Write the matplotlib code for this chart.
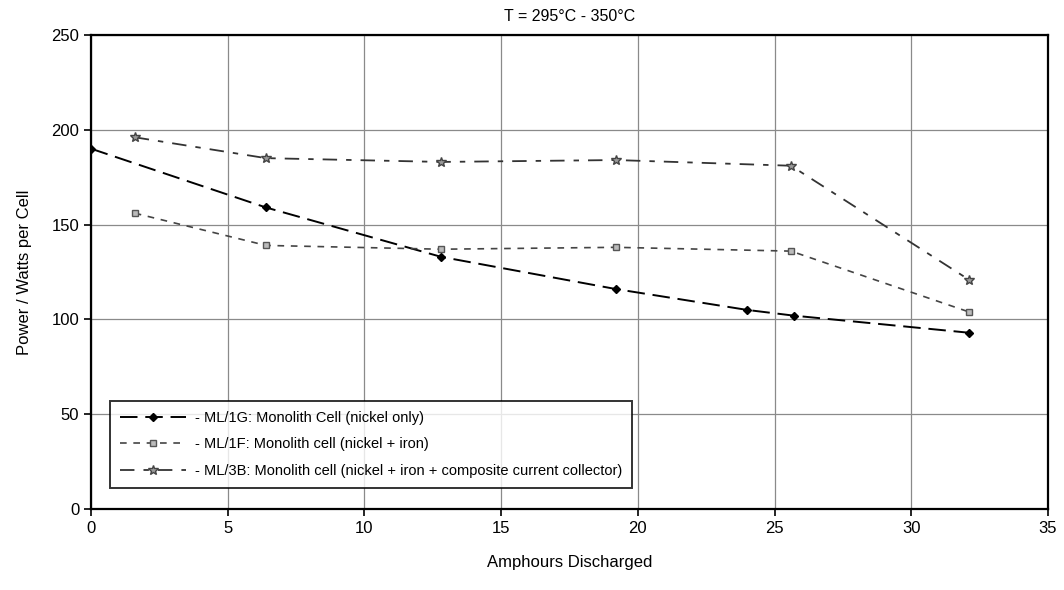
import matplotlib
matplotlib.use("Agg")
import matplotlib.pyplot as plt

plt.rcParams["font.family"] = ["Liberation Sans", "DejaVu Sans"]

# ---- data -----------------------------------------------------------------
x_1g = [0, 6.4, 12.8, 19.2, 24.0, 25.7, 32.1]
y_1g = [190, 159, 133, 116, 105, 102, 93]

x_1f = [1.6, 6.4, 12.8, 19.2, 25.6, 32.1]
y_1f = [156, 139, 137, 138, 136, 104]

x_3b = [1.6, 6.4, 12.8, 19.2, 25.6, 32.1]
y_3b = [196, 185, 183, 184, 181, 121]

labels = ["- ML/1G: Monolith Cell (nickel only)",
          "- ML/1F: Monolith cell (nickel + iron)",
          "- ML/3B: Monolith cell (nickel + iron + composite current collector)"]

# ---- figure ----------------------------------------------------------------
fig = plt.figure(figsize=(10.64, 5.90), dpi=100)
ax = fig.add_axes([0.0855, 0.137, 0.8995, 0.804])

ax.plot(x_1g, y_1g, color="black", lw=1.4, dashes=(9, 4),
        marker="D", ms=4, label=labels[0])
ax.plot(x_1f, y_1f, color="#444444", lw=1.2, dashes=(4, 4),
        marker="s", ms=4, mfc="#bbbbbb", mec="#555555", label=labels[1])
ax.plot(x_3b, y_3b, color="#333333", lw=1.3, dashes=(8, 5, 3, 5),
        marker="*", ms=7, mfc="#999999", mec="#444444", label=labels[2])

ax.set_xlim(0, 35)
ax.set_ylim(0, 250)
ax.set_xticks(range(0, 36, 5))
ax.set_yticks(range(0, 251, 50))
ax.grid(True, color="#8a8a8a", lw=0.9)
ax.set_axisbelow(True)
for s in ax.spines.values():
    s.set_linewidth(1.6)
ax.tick_params(labelsize=12, length=5, width=1.2)

ax.set_xlabel("Amphours Discharged", fontsize=12, labelpad=14)
ax.set_ylabel("Power / Watts per Cell", fontsize=12, labelpad=14)
ax.set_title("T = 295°C - 350°C", fontsize=11.5, pad=10)

leg = ax.legend(loc="lower left", bbox_to_anchor=(0.02, 0.045), fontsize=10.5,
                frameon=True, fancybox=False, edgecolor="black",
                borderpad=0.7, labelspacing=0.85, handlelength=4.5,
                handletextpad=0.6, borderaxespad=0)
leg.get_frame().set_linewidth(1.4)

fig.savefig("out.png", dpi=100)
